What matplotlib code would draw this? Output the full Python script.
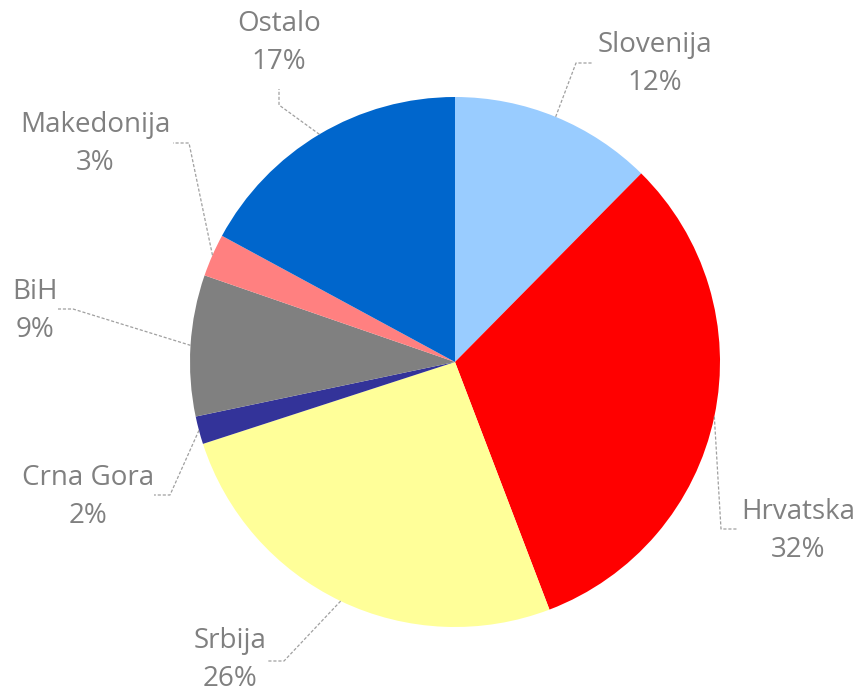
import matplotlib
matplotlib.use("Agg")
import numpy as np
from matplotlib import pyplot as plt

# udio po zemljama
zemlje = ["Slovenija", "Hrvatska", "Srbija", "Crna Gora", "BiH", "Makedonija", "Ostalo"]
udjeli = [12.4, 31.8, 25.8, 1.7, 8.6, 2.6, 17.1]
postotci = ["12%", "32%", "26%", "2%", "9%", "3%", "17%"]
boje = ["#99CCFF", "#FF0000", "#FFFF99", "#333399", "#808080", "#FF8080", "#0066CC"]

W, H = 859, 696
cx, cy, R = 455, 362, 265  # u pikselima (y prema dolje)

# polozaj teksta i lom linije (pikseli)
tekst_xy = [(655, 64), (798, 531), (230, 660), (88, 497), (35, 311), (95, 144), (279, 43)]
lom_xy = [(576, 63), (721, 529), (284, 661), (170, 495), (73, 309), (189, 143), (279, 105)]
kraj_xy = [(593, 63), (738, 529), (268, 661), (154, 495), (58, 309), (173, 143), (279, 89)]

fig = plt.figure(figsize=(W / 100, H / 100), dpi=100)
ax = fig.add_axes([0, 0, 1, 1])

ax.pie(udjeli, colors=boje, startangle=90, counterclock=False,
       center=(cx, H - cy), radius=R, wedgeprops=dict(linewidth=0),
       frame=True)
ax.set_xlim(0, W)
ax.set_ylim(0, H)
ax.set_aspect("equal")
ax.axis("off")

kut = 0
for i, u in enumerate(udjeli):
    sred = np.radians(kut + u / 100 * 360 / 2)
    kut += u / 100 * 360
    x0 = cx + R * np.sin(sred)
    y0 = cy - R * np.cos(sred)
    xs = [x0, lom_xy[i][0], kraj_xy[i][0]]
    ys = [H - y0, H - lom_xy[i][1], H - kraj_xy[i][1]]
    ax.plot(xs, ys, color="#A0A0A0", lw=0.9, ls=(0, (2.5, 1.5)))
    ax.text(tekst_xy[i][0], H - tekst_xy[i][1], zemlje[i] + "\n" + postotci[i],
            ha="center", va="center", fontsize=20, color="#808080",
            family="Open Sans", linespacing=1.45, multialignment="center")

fig.savefig("out.png", dpi=100)
